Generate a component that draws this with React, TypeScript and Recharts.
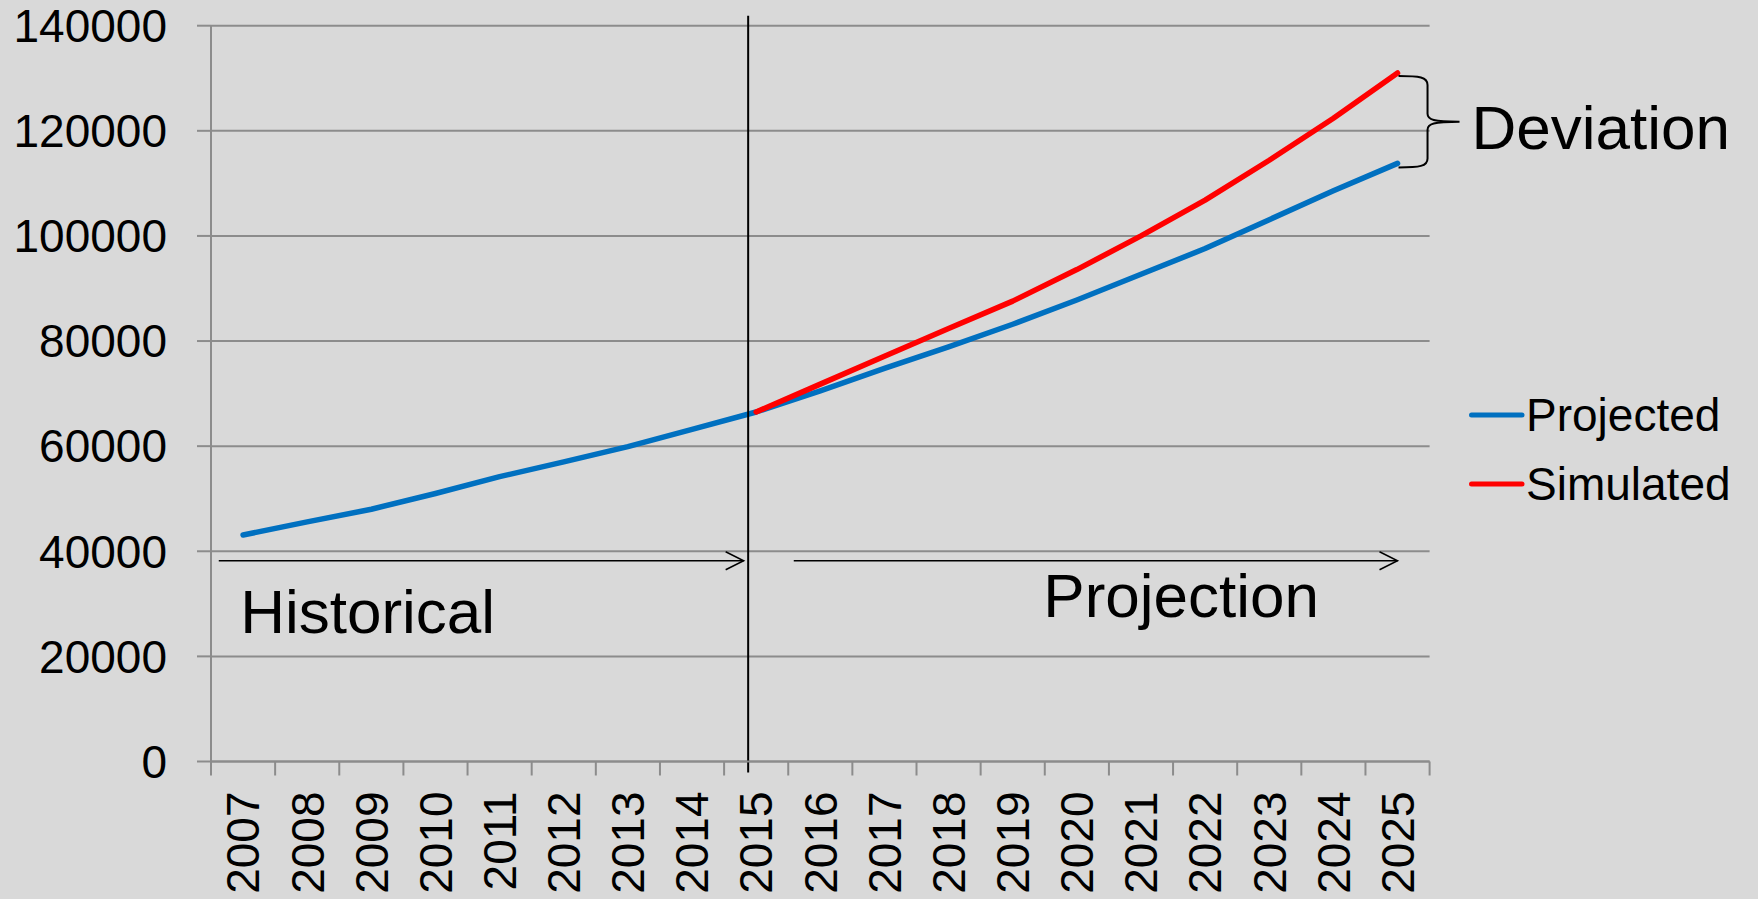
import { LineChart, Line, XAxis, YAxis, CartesianGrid, ReferenceLine } from "recharts";

const years = [
  "2007", "2008", "2009", "2010", "2011", "2012", "2013", "2014", "2015", "2016",
  "2017", "2018", "2019", "2020", "2021", "2022", "2023", "2024", "2025",
];
const projected = [
  43100, 45600, 48000, 51000, 54200, 57000, 59900, 63200, 66500, 70500,
  74800, 78900, 83200, 87800, 92700, 97600, 103100, 108600, 113800,
];
const simulated = [
  null, null, null, null, null, null, null, null, 66500, 71800,
  77100, 82400, 87600, 93600, 100000, 106800, 114400, 122400, 131000,
];
const yTicks = [0, 20000, 40000, 60000, 80000, 100000, 120000, 140000];
const seriesNames = ["Projected", "Simulated"];
const seriesColors = ["#0070C0", "#FF0000"];

// annotation anchors (data space)
const SPLIT_YEAR = "2015";
const ARROW_LEVEL = 38200;

const data = years.map((year, i) => ({
  year,
  projected: projected[i],
  simulated: simulated[i],
}));

const W = 1758;
const H = 899;
const PLOT_LEFT = 211;
const PLOT_RIGHT = 1429.6;
const PLOT_TOP = 25.7;
const PLOT_BOTTOM = 761.5;
const STEP = (PLOT_RIGHT - PLOT_LEFT) / years.length;

const FONT = '"Liberation Sans", Arial, sans-serif';
const GRID = "#8c8c8c";
const BG = "#d9d9d9";

function YearTick(props: any) {
  const { x, payload, index } = props;
  const half = STEP / 2;
  const ty = PLOT_BOTTOM + 30;
  return (
    <g>
      <line x1={x - half} x2={x - half} y1={PLOT_BOTTOM} y2={PLOT_BOTTOM + 14} stroke={GRID} strokeWidth={2} />
      {index === years.length - 1 && (
        <line x1={x + half} x2={x + half} y1={PLOT_BOTTOM} y2={PLOT_BOTTOM + 14} stroke={GRID} strokeWidth={2} />
      )}
      <text
        x={x}
        y={ty}
        dy="0.355em"
        textAnchor="end"
        transform={`rotate(-90 ${x} ${ty})`}
        fontSize={46}
        fontFamily={FONT}
        fill="#000"
      >
        {payload.value}
      </text>
    </g>
  );
}

function SeparatorShape(p: any) {
  const x = p.x1 - 8;
  const top = Math.min(p.y1, p.y2) - 10;
  const bottom = Math.max(p.y1, p.y2) + 11;
  return <line x1={x} x2={x} y1={top} y2={bottom} stroke="#000" strokeWidth={2} />;
}

function makeArrow(startOff: number, endOff: number, label: string, labelDx: number, labelDy: number) {
  return (p: any) => {
    const xs = Math.min(p.x1, p.x2) + startOff;
    const xe = Math.max(p.x1, p.x2) + endOff;
    const y = p.y1;
    return (
      <g>
        <line x1={xs} x2={xe} y1={y} y2={y} stroke="#000" strokeWidth={1.5} />
        <polyline
          points={`${xe - 18},${y - 9} ${xe},${y} ${xe - 18},${y + 9}`}
          fill="none"
          stroke="#000"
          strokeWidth={1.5}
        />
        <text x={xs + labelDx} y={y + labelDy} fontSize={62} fontFamily={FONT} fill="#000">
          {label}
        </text>
      </g>
    );
  };
}

const HistoricalArrow = makeArrow(-24.3, -12.5, "Historical", 21.4, 72.4);
const ProjectionArrow = makeArrow(37.6, 0, "Projection", 249.6, 56.7);

function BraceShape(p: any) {
  const x = p.x1;
  const y1 = Math.min(p.y1, p.y2) + 3;
  const y2 = Math.max(p.y1, p.y2) + 4;
  const mid = (y1 + y2) / 2;
  const d =
    `M ${x + 1} ${y1} C ${x + 22} ${y1} ${x + 30} ${y1 + 1} ${x + 30} ${y1 + 9} ` +
    `L ${x + 30} ${mid - 8} C ${x + 30} ${mid - 2} ${x + 36} ${mid} ${x + 62} ${mid} ` +
    `C ${x + 36} ${mid} ${x + 30} ${mid + 2} ${x + 30} ${mid + 8} ` +
    `L ${x + 30} ${y2 - 9} C ${x + 30} ${y2 - 1} ${x + 22} ${y2} ${x + 1} ${y2}`;
  return (
    <g>
      <path d={d} fill="none" stroke="#000" strokeWidth={2} />
      <text x={x + 74} y={mid + 27} fontSize={62} fontFamily={FONT} fill="#000">
        Deviation
      </text>
    </g>
  );
}

function LegendBox() {
  return (
    <div style={{ position: "absolute", left: 1467, top: 380.5, fontFamily: FONT, fontSize: 46, color: "#000" }}>
      {seriesNames.map((name, i) => (
        <div key={name} style={{ height: 69, display: "flex", alignItems: "center" }}>
          <svg width={59} height={10} style={{ display: "block" }}>
            <line x1={4.5} x2={55} y1={5} y2={5} stroke={seriesColors[i]} strokeWidth={5} strokeLinecap="round" />
          </svg>
          <span style={{ whiteSpace: "nowrap" }}>{name}</span>
        </div>
      ))}
    </div>
  );
}

export default function App() {
  const last = years[years.length - 1];
  return (
    <div style={{ position: "absolute", left: 0, top: 0, width: W, height: H, background: BG, overflow: "hidden" }}>
      <LineChart
        width={W}
        height={H}
        data={data}
        margin={{ top: PLOT_TOP, right: W - PLOT_RIGHT, bottom: 0, left: 0 }}
      >
        <CartesianGrid vertical={false} stroke={GRID} strokeWidth={2} />
        <XAxis
          dataKey="year"
          interval={0}
          height={H - PLOT_BOTTOM}
          padding={{ left: STEP / 2, right: STEP / 2 }}
          axisLine={{ stroke: GRID, strokeWidth: 2 }}
          tickLine={false}
          tick={(p: any) => <YearTick {...p} />}
        />
        <YAxis
          width={PLOT_LEFT}
          domain={[0, 140000]}
          ticks={yTicks}
          interval={0}
          tickSize={14}
          tickMargin={30}
          axisLine={{ stroke: GRID, strokeWidth: 2 }}
          tickLine={{ stroke: GRID, strokeWidth: 2 }}
          tick={{ fontSize: 46, fontFamily: FONT, fill: "#000" }}
        />
        <Line
          dataKey="projected"
          name={seriesNames[0]}
          type="linear"
          stroke={seriesColors[0]}
          strokeWidth={5.5}
          strokeLinecap="round"
          strokeLinejoin="round"
          dot={false}
          activeDot={false}
          isAnimationActive={false}
        />
        <Line
          dataKey="simulated"
          name={seriesNames[1]}
          type="linear"
          stroke={seriesColors[1]}
          strokeWidth={5.5}
          strokeLinecap="round"
          strokeLinejoin="round"
          dot={false}
          activeDot={false}
          isAnimationActive={false}
        />
        <ReferenceLine x={SPLIT_YEAR} shape={SeparatorShape} />
        <ReferenceLine
          segment={[{ x: years[0], y: ARROW_LEVEL }, { x: SPLIT_YEAR, y: ARROW_LEVEL }]}
          shape={HistoricalArrow}
        />
        <ReferenceLine
          segment={[{ x: SPLIT_YEAR, y: ARROW_LEVEL }, { x: last, y: ARROW_LEVEL }]}
          shape={ProjectionArrow}
        />
        <ReferenceLine
          segment={[
            { x: last, y: simulated[simulated.length - 1] },
            { x: last, y: projected[projected.length - 1] },
          ]}
          shape={BraceShape}
        />
      </LineChart>
      <LegendBox />
    </div>
  );
}
